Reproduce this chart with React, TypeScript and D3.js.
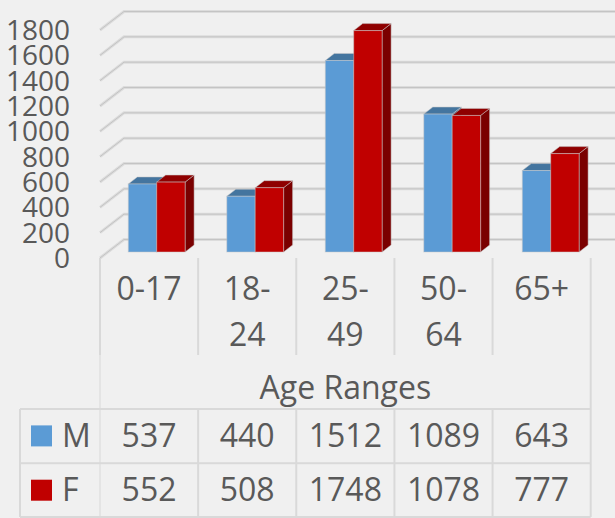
import React from "react";
import * as d3 from "d3";

const categories = ["0-17", "18-24", "25-49", "50-64", "65+"];
const categoryLines = [["0-17"], ["18-", "24"], ["25-", "49"], ["50-", "64"], ["65+"]];
const seriesNames = ["M", "F"];
const male = [537, 440, 1512, 1089, 643];
const female = [552, 508, 1748, 1078, 777];
const yTicks = [0, 200, 400, 600, 800, 1000, 1200, 1400, 1600, 1800];
const axisTitle = "Age Ranges";

const colors = {
  M: { front: "#5b9bd5", top: "#44759f", side: "#3a6487" },
  F: { front: "#c00000", top: "#8f0000", side: "#7a0000" }
};

const W = 615;
const H = 518;
const left = 100;
const right = 590.7;
const wallDx = 24;
const wallDy = 18.5;
const barDx = 9;
const barDy = 7;
const floorY = 258;
const barBaseY = 252;
const textColor = "#595959";
const lineColor = "#d9d9d9";
const font = "'Open Sans', sans-serif";
const axisFont = 28;
const tableFont = 32;

const x = d3.scaleBand<string>().domain(categories).range([left, right]);
// bar groups step a little wider than the table columns
const groupX = d3.scaleBand<string>().domain(categories).range([128.3, 620.8]);
const barX = d3.scaleBand<string>().domain(seriesNames).range([0, 56.8]);
const yFront = d3.scaleLinear().domain([0, 1800]).range([floorY, 30]);
const yBar = d3.scaleLinear().domain([0, 1800]).range([barBaseY, barBaseY - 228]);

function Bar({ name, cat, value }: { name: "M" | "F"; cat: string; value: number }) {
  const x0 = (groupX(cat) as number) + (barX(name) as number);
  const x1 = x0 + barX.bandwidth();
  const t = yBar(value);
  const c = colors[name];
  return (
    <g>
      <path
        d={`M${x1},${t}L${x1 + barDx},${t - barDy}L${x1 + barDx},${barBaseY - barDy}L${x1},${barBaseY}Z`}
        fill={c.side}
        stroke="#c8c8c8"
        strokeOpacity={0.5}
      />
      <path
        d={`M${x0},${t}L${x0 + barDx},${t - barDy}L${x1 + barDx},${t - barDy}L${x1},${t}Z`}
        fill={c.top}
        stroke="#c8c8c8"
        strokeOpacity={0.5}
      />
      <rect
        x={x0}
        y={t}
        width={x1 - x0}
        height={barBaseY - t}
        fill={c.front}
        stroke="#c8c8c8"
        strokeOpacity={0.5}
      />
    </g>
  );
}

export default function App() {
  const rowTops = [409, 463.3, 517];
  const values = [male, female];
  return (
    <svg
      width={W}
      height={H}
      viewBox={`0 0 ${W} ${H}`}
      style={{ position: "absolute", left: 0, top: 0, background: "#f0f0f0" }}
      fontFamily={font}
      fill={textColor}
    >
      {/* grid on the floor corner and the back wall */}
      {yTicks.map(t => {
        const d = `M${left},${yFront(t)}L${left + wallDx},${yFront(t) - wallDy}L${W},${yFront(t) - wallDy}`;
        return (
          <g key={t} fill="none">
            <path d={d} stroke="#dcdcdc" strokeWidth={3} />
            <path d={d} stroke="#c4c4c4" strokeWidth={1} />
          </g>
        );
      })}

      {/* bars */}
      {categories.map((c, i) => (
        <g key={c}>
          <Bar name="M" cat={c} value={male[i]} />
          <Bar name="F" cat={c} value={female[i]} />
        </g>
      ))}

      {/* y axis labels */}
      {yTicks.map(t => (
        <text key={t} x={70} y={yFront(t) + 10} textAnchor="end" fontSize={axisFont}>
          {t}
        </text>
      ))}

      {/* data table lines */}
      <g stroke={lineColor} strokeWidth={2} fill="none">
        {categories.map(c => (
          <line key={c} x1={x(c)} x2={x(c)} y1={floorY} y2={355} />
        ))}
        <line x1={right} x2={right} y1={floorY} y2={517} />
        <line x1={left} x2={left} y1={355} y2={517} stroke="#e4e4e4" />
        {categories.slice(1).map(c => (
          <line key={c} x1={x(c)} x2={x(c)} y1={409} y2={517} />
        ))}
        <line x1={20} x2={20} y1={409} y2={517} />
        {rowTops.map(y => (
          <line key={y} x1={20} x2={right} y1={y} y2={y} />
        ))}
      </g>

      {/* category labels */}
      {categories.map((c, i) =>
        categoryLines[i].map((s, j) => (
          <text
            key={s}
            x={(x(c) as number) + x.bandwidth() / 2}
            y={300 + j * 46}
            textAnchor="middle"
            fontSize={tableFont}
          >
            {s}
          </text>
        ))
      )}
      <text x={(left + right) / 2} y={399} textAnchor="middle" fontSize={tableFont}>
        {axisTitle}
      </text>

      {/* table rows */}
      {seriesNames.map((name, r) => {
        const rowY = rowTops[r] + 38;
        return (
          <g key={name}>
            <rect
              x={31}
              y={rowTops[r] + 16.4}
              width={21}
              height={21}
              fill={colors[name as "M" | "F"].front}
            />
            <text x={62} y={rowY} fontSize={tableFont}>
              {name}
            </text>
            {categories.map((c, i) => (
              <text
                key={c}
                x={(x(c) as number) + x.bandwidth() / 2}
                y={rowY}
                textAnchor="middle"
                fontSize={tableFont}
              >
                {values[r][i]}
              </text>
            ))}
          </g>
        );
      })}
    </svg>
  );
}
